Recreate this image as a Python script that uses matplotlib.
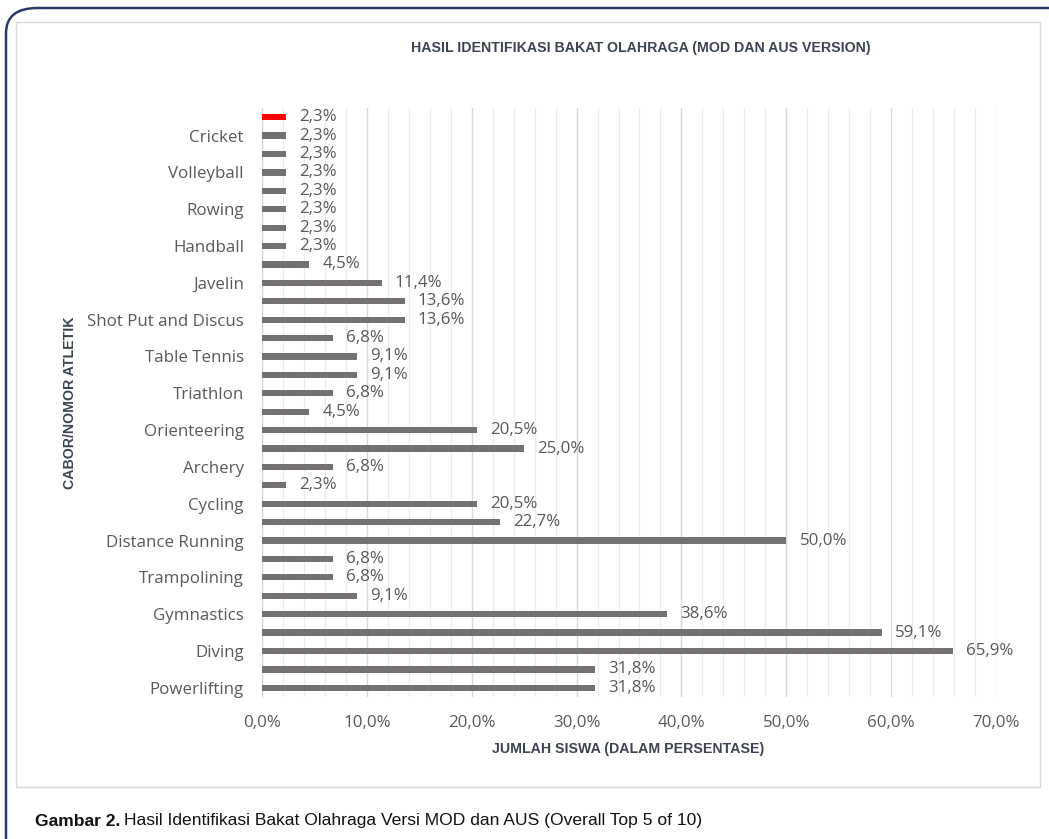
import matplotlib
matplotlib.use("Agg")
import matplotlib.pyplot as plt
from matplotlib.patches import FancyBboxPatch, Rectangle
from matplotlib.ticker import MultipleLocator, FuncFormatter

# Data (top to bottom as shown)
categories = ["", "Cricket", "", "Volleyball", "", "Rowing", "", "Handball",
              "", "Javelin", "", "Shot Put and Discus", "", "Table Tennis", "",
              "Triathlon", "", "Orienteering", "", "Archery", "", "Cycling", "",
              "Distance Running", "", "Trampolining", "", "Gymnastics", "",
              "Diving", "", "Powerlifting"]
values = [2.3, 2.3, 2.3, 2.3, 2.3, 2.3, 2.3, 2.3,
          4.5, 11.4, 13.6, 13.6, 6.8, 9.1, 9.1,
          6.8, 4.5, 20.5, 25.0, 6.8, 2.3, 20.5, 22.7,
          50.0, 6.8, 6.8, 9.1, 38.6, 59.1,
          65.9, 31.8, 31.8]
highlight_index = 0
x_ticks = [0, 10, 20, 30, 40, 50, 60, 70]

title = "HASIL IDENTIFIKASI BAKAT OLAHRAGA (MOD DAN AUS VERSION)"
xlabel = "JUMLAH SISWA (DALAM PERSENTASE)"
ylabel = "CABOR/NOMOR ATLETIK"

narrow = ["Liberation Sans Narrow", "Liberation Sans", "DejaVu Sans"]
body = ["Open Sans", "DejaVu Sans"]
bar_color = "#767171"
text_color = "#595959"
head_color = "#3b4453"
fs = 12.2

W, H = 1049, 839
fig = plt.figure(figsize=(W / 100, H / 100), dpi=100)

# Outer rounded frame
frame = FancyBboxPatch((6 / W, -0.05), 1.2, 1 - 8 / H + 0.05,
                       boxstyle="round,pad=0,rounding_size=0.03",
                       transform=fig.transFigure, fill=False,
                       edgecolor="#2b3a67", linewidth=1.8, clip_on=False)
fig.patches.append(frame)
# Inner chart panel
panel = Rectangle((16 / W, 1 - 787 / H), (1040 - 16) / W, (787 - 22) / H,
                  transform=fig.transFigure, fill=False,
                  edgecolor="#d9d9d9", linewidth=1.0)
fig.patches.append(panel)

ax = fig.add_axes([262 / W, 1 - 697 / H, (996 - 262) / W, (697 - 108) / H])

n = len(values)
ypos = list(range(n - 1, -1, -1))
colors = [("#ff0000" if i == highlight_index else bar_color) for i in range(n)]
ax.barh(ypos, values, height=0.34, color=colors, zorder=3)

for y, v in zip(ypos, values):
    ax.annotate(f"{v:.1f}%".replace(".", ","), (v, y), xytext=(9.5, 0),
                textcoords="offset points", va="center", ha="left",
                fontsize=fs, color=text_color, family=body)

ax.set_xlim(0, 70)
ax.set_ylim(-0.5, n - 0.5)
ax.set_yticks(ypos)
ax.set_yticklabels(categories, family=body, fontsize=fs, color=text_color)
ax.set_xticks(x_ticks)
ax.xaxis.set_major_formatter(FuncFormatter(lambda x, p: f"{x:.1f}%".replace(".", ",")))
ax.xaxis.set_minor_locator(MultipleLocator(2))
for lab in ax.get_xticklabels():
    lab.set_family(body)
    lab.set_fontsize(fs)
    lab.set_color(text_color)
ax.tick_params(axis="both", which="both", length=0)
ax.tick_params(axis="x", pad=13)
ax.tick_params(axis="y", pad=13)
ax.grid(axis="x", which="major", color="#d9d9d9", linewidth=1.0, zorder=0)
ax.grid(axis="x", which="minor", color="#ececec", linewidth=0.9, zorder=0)
for s in ["top", "right", "bottom"]:
    ax.spines[s].set_visible(False)
ax.spines["left"].set_color("#d9d9d9")

fig.text(641 / W, 1 - 48 / H, title, ha="center", va="center",
         fontsize=10.2, fontweight="bold", color=head_color, family=narrow)
fig.text(628 / W, 1 - 749 / H, xlabel, ha="center", va="center",
         fontsize=10.2, fontweight="bold", color=head_color, family=narrow)
fig.text(70 / W, 1 - 403 / H, ylabel, ha="center", va="center", rotation=90,
         fontsize=10.2, fontweight="bold", color=head_color, family=narrow)

t1 = fig.text(35 / W, 1 - 821 / H, "Gambar 2.", ha="left", va="center",
              fontsize=12.6, fontweight="bold", color="#111111", family=narrow)
fig.canvas.draw()
bb = t1.get_window_extent()
fig.text(bb.x1 / W + 4 / W, 1 - 821 / H,
         "Hasil Identifikasi Bakat Olahraga Versi MOD dan AUS (Overall Top 5 of 10)",
         ha="left", va="center", fontsize=12.6, color="#111111", family=narrow)

fig.savefig("out.png", dpi=100)
